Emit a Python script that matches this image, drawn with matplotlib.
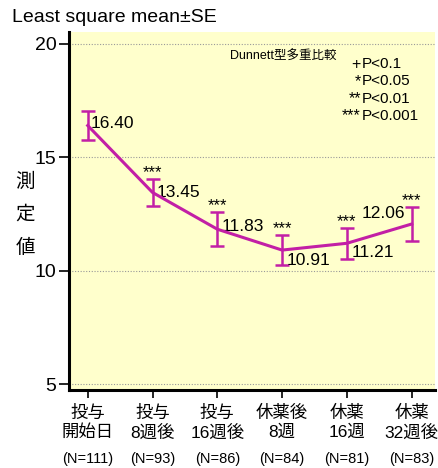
import numpy as np
import matplotlib.pyplot as plt
from matplotlib.transforms import blended_transform_factory

plt.rcParams["font.family"] = ["Liberation Sans", "Noto Sans CJK JP", "DejaVu Sans"]

# Least square means and standard errors at each visit
visits = ["投与\n開始日", "投与\n8週後", "投与\n16週後", "休薬後\n8週", "休薬\n16週", "休薬\n32週後"]
n_counts = [111, 93, 86, 84, 81, 83]
means = [16.40, 13.45, 11.83, 10.91, 11.21, 12.06]
se = [0.62, 0.61, 0.74, 0.65, 0.68, 0.74]
stars = ["", "***", "***", "***", "***", "***"]
yticks = [5, 10, 15, 20]

line_color = "#c21fa6"
x = np.arange(len(means))

fig = plt.figure(figsize=(4.39, 4.68), dpi=100)
ax = fig.add_axes([0.157, 0.167, 0.834, 0.765])
ax.set_facecolor("#ffffcc")

ax.errorbar(x, means, yerr=se, color=line_color, linewidth=2.2,
            elinewidth=1.8, capsize=5, capthick=1.8, zorder=3)

# value labels next to each point
offsets = [(0.05, 0.1, "left"), (0.07, 0.0, "left"), (0.07, 0.1, "left"),
           (0.07, -0.45, "left"), (0.07, -0.4, "left"), (-0.1, 0.45, "right")]
for xi, m, (dx, dy, ha) in zip(x, means, offsets):
    ax.text(xi + dx, m + dy, f"{m:.2f}", ha=ha, va="center", fontsize=12.5)

# significance marks above the error bars
for xi, m, s, e in zip(x, means, stars, se):
    if s:
        ax.text(xi, m + e - 0.05, s, ha="center", va="bottom", fontsize=12)

ax.set_xlim(-0.29, 5.36)
ax.set_ylim(4.75, 20.53)
ax.set_yticks(yticks)
ax.set_yticklabels([str(t) for t in yticks], fontsize=14)
for t in yticks:
    ax.axhline(t, color="#999999", linewidth=0.8, linestyle=(0, (1, 1.5)), zorder=1)

ax.set_xticks(x)
ax.set_xticklabels(visits, fontsize=12.5, linespacing=1.25)
ax.tick_params(axis="x", length=6, width=1.2, pad=5)
ax.tick_params(axis="y", length=7, width=1.2, pad=2)

trans = blended_transform_factory(ax.transData, fig.transFigure)
for xi, n in zip(x, n_counts):
    fig.text(xi, 1 - 459 / 468, f"(N={n})", transform=trans, ha="center",
             va="center", fontsize=10.5)

for side in ["top", "right"]:
    ax.spines[side].set_visible(False)
for side in ["left", "bottom"]:
    ax.spines[side].set_linewidth(2.2)

fig.text(12 / 439, 1 - 17 / 468, "Least square mean±SE", fontsize=14, va="center")
fig.text(25 / 439, 1 - 215 / 468, "測\n定\n値", fontsize=14, ha="center",
         va="center", linespacing=2.1)

# Dunnett legend block
fig.text(230 / 439, 1 - 57 / 468, "Dunnett型多重比較", fontsize=9, va="center")
legend_rows = [("+", "P<0.1"), ("*", "P<0.05"), ("**", "P<0.01"), ("***", "P<0.001")]
for i, (mark, p) in enumerate(legend_rows):
    yy = 1 - (64 + i * 17.3) / 468
    fig.text(361 / 439, yy, mark, fontsize=11.5, ha="right", va="center")
    fig.text(362 / 439, yy, p, fontsize=11, ha="left", va="center")

fig.savefig("out.png", dpi=100)
